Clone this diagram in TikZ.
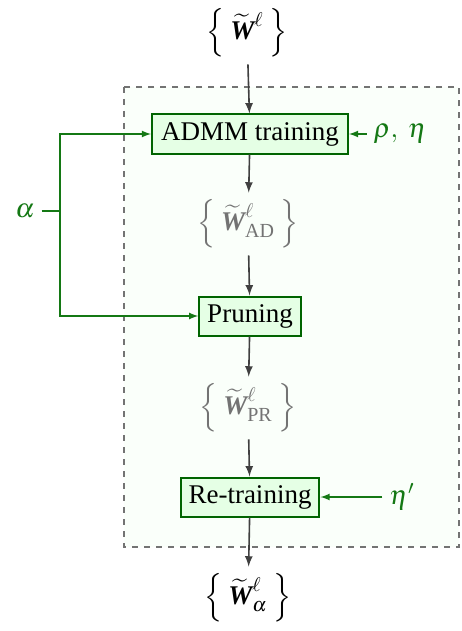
\documentclass[tikz,border=0pt]{standalone}
\usepackage{amsmath}
\usepackage{mathptmx}
\usepackage{fontspec}
\setmainfont{Liberation Serif}
\usetikzlibrary{arrows}
\definecolor{stagegreen}{RGB}{0,100,0}
\definecolor{paramgreen}{RGB}{20,120,20}
\newcommand{\wset}[1]{\Big\{\;\widetilde{\text{\bfseries\itshape W}}^{\raisebox{-2.5pt}{$\scriptstyle\ell$}}_{#1}\;\Big\}}

\begin{document}
\begin{tikzpicture}[x=0.5pt,y=-0.5pt]
\tikzstyle{every node}=[font=\fontsize{13.5}{16}\selectfont]
\tikzstyle{stage}=[draw=stagegreen, fill=green!10, line width=1pt, inner xsep=4pt, minimum height=19.5pt]
\tikzstyle{flow}=[->, >=latex, black!75, thick]
\tikzstyle{param}=[->, >=latex, paramgreen, semithick]
\useasboundingbox (0,0) rectangle (461,631);
\draw[black!55, dashed, thick, fill=green!2] (124,87) rectangle (459,547);
\draw (247,33) node (w0) {$\wset{}$};
\draw (250,134) node (admm) [stage, minimum width=98pt] {ADMM training};
\draw (248,224) node (wad) [black!55] {$\wset{\text{AD}}$};
\draw (250,316) node (prune) [stage] {Pruning};
\draw (248,408) node (wpr) [black!55] {$\wset{\text{PR}}$};
\draw (250,497) node (retrain) [stage] {Re-training};
\draw (248,598) node (walpha) {$\wset{\alpha}$};
\draw (25,211) node (alpha) [paramgreen] {$\alpha$};
\draw (400,134) node (rhoeta) [paramgreen] {$\rho,\ \eta$};
\draw (402,497) node (etap) [paramgreen] {$\eta'$};
\coordinate (split) at (60,211);
\draw[flow] (w0) -- (admm);
\draw[flow] (admm) -- (wad);
\draw[flow] (wad) -- (prune);
\draw[flow] (prune) -- (wpr);
\draw[flow] (wpr) -- (retrain);
\draw[flow] (retrain) -- (walpha);
\draw[paramgreen, semithick] (alpha) -- (split);
\draw[param] (split) |- (admm);
\draw[param] (split) |- (prune);
\draw[param] (rhoeta) -- (admm);
\draw[param] (etap) -- (retrain);
\end{tikzpicture}
\end{document}
